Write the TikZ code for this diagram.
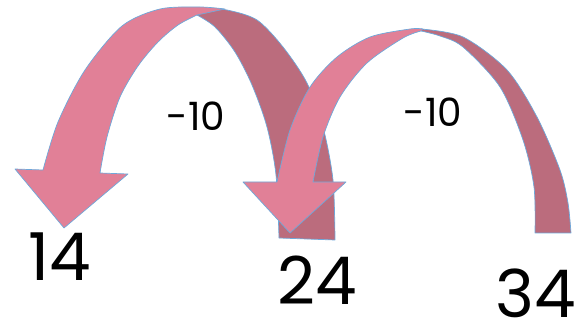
\documentclass[tikz,border=0pt]{standalone}
\usepackage{fontspec}
\setmainfont{Poppins}
\usepackage{xcolor}
\definecolor{frontpink}{RGB}{225,128,151}
\definecolor{backpink}{RGB}{187,108,125}
\definecolor{rimblue}{RGB}{110,168,218}
\usetikzlibrary{positioning}

\begin{document}
\begin{tikzpicture}[
  x=1pt, y=-1pt,
  back/.style   = {fill=backpink, draw=rimblue, line width=0.7pt, line join=round},
  front/.style  = {fill=frontpink, draw=rimblue, line width=0.7pt, line join=round},
  num/.style    = {inner sep=0pt, font=\fontsize{66}{66}\selectfont},
  jump/.style   = {inner sep=0pt, font=\fontsize{39}{39}\selectfont},
]
\useasboundingbox (0,0) rectangle (579,326);

% ---- first jump: 24 -> 14 ----
\filldraw[back] plot[smooth] coordinates {(197,15) (215,27) (235,52) (252,85) (267,127) (276,175) (279,238)}
  -- plot[smooth] coordinates {(335,240) (333,180) (323,127) (307,83) (283,47) (257,20) (227,10) (200,8)}
  -- cycle;
\filldraw[front] plot[smooth] coordinates {(43,170) (58,122) (85,70) (122,26) (160,9) (200,7) (225,9)}
  -- plot[smooth] coordinates {(197,15) (178,25) (158,42) (138,66) (120,97) (107,137) (100,173)}
  -- (128,174) -- (64,228) -- (15,169) -- cycle;

% ---- second jump: 34 -> 24 ----
\filldraw[back] plot[smooth] coordinates {(421,31) (440,36) (463,47) (500,87) (523,140) (534,187) (535,233)}
  -- plot[smooth] coordinates {(571,233) (568,203) (560,170) (537,117) (507,70) (463,37) (421,29)}
  -- cycle;
\filldraw[front] plot[smooth] coordinates {(277,182) (290,130) (310,87) (337,57) (370,37) (410,29) (423,29)}
  -- plot[smooth] coordinates {(421,31) (403,38) (367,63) (340,97) (323,137) (313,182)}
  -- (346,182) -- (290,233) -- (243,182) -- cycle;

% ---- numbers ----
\node[num] (n14) at (60,257) {14};
\node[num] (n24) at (317,280) {24};
\node[num] (n34) at (536,293) {34};

% ---- jump labels ----
\node[jump] (d1) at (196,116) {-10};
\node[jump] (d2) at (433,112) {-10};

\end{tikzpicture}
\end{document}
